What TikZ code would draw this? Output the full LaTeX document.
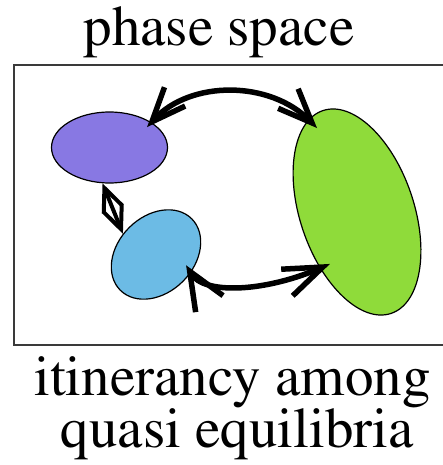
\documentclass[tikz,border=0pt]{standalone}
\usepackage[T1]{fontenc}
\usepackage{mathptmx}
\usetikzlibrary{arrows.meta,shapes.geometric}
\definecolor{lilac}{HTML}{8878E3}
\definecolor{skyblue}{HTML}{6CBBE5}
\definecolor{limegreen}{HTML}{8FDB3A}
\definecolor{framegray}{HTML}{3A3A3A}
\tikzset{
  every picture/.style={line join=miter, >={Straight Barb[length=34pt,width=28pt]}},
  longbarb/.tip={Straight Barb[length=39pt,width=29pt]},
  widebarb/.tip={Straight Barb[length=38pt,width=32pt]},
  smallbarb/.tip={Straight Barb[length=23pt,width=20pt]},
  blob/.style={ellipse, draw, line width=1.2pt, inner sep=0pt},
  bigarrow/.style={line width=5.5pt},
  smallarrow/.style={smallbarb-smallbarb, line width=4pt},
  caption/.style={anchor=base, inner sep=0pt, font=\fontsize{57}{60}\selectfont},
}

\begin{document}
\begin{tikzpicture}[x=1pt,y=-1pt]
\useasboundingbox (0,0) rectangle (443,465);
\draw[framegray,line width=1.5pt] (14,65) rectangle (460,345);
\node[caption] (title) at (219,46) {phase space};
\node[caption] (itin) at (232.5,395) {itinerancy among};
\node[caption] (quasi) at (237.5,447) {quasi equilibria};
\node[blob,fill=lilac,minimum width=116pt,minimum height=71pt] (qa) at (109.5,147.5) {};
\node[blob,fill=skyblue,minimum width=101pt,minimum height=76pt,rotate=45] (qb) at (156,254.5) {};
\node[blob,fill=limegreen,minimum width=114pt,minimum height=214pt,rotate=18.6] (qc) at (357,212) {};
\draw[bigarrow,<->,shorten <=-6.5pt,shorten >=-12pt] (qa.31) .. controls (190,80) and (270,80) .. (qc.99);
\draw[smallarrow] (qa.259) -- (qb.103);
\draw[bigarrow,widebarb-longbarb,shorten <=-9pt,shorten >=-11pt] (qb.287) .. controls (204,295) and (265,292) .. (qc.218);
\end{tikzpicture}
\end{document}
